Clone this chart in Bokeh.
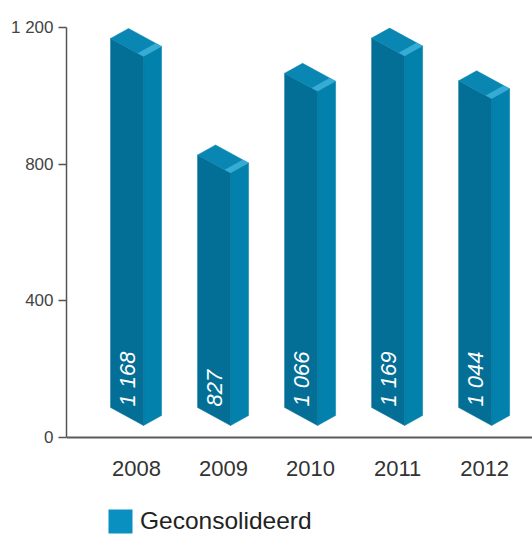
import math
from bokeh.plotting import figure
from bokeh.models import Range1d, FixedTicker, Legend, LegendItem
from bokeh.core.properties import value
from bokeh.embed import file_html
from bokeh.resources import INLINE

# ---- data ----
years = ["2008", "2009", "2010", "2011", "2012"]
values = [1168, 827, 1066, 1169, 1044]
y_ticks = [0, 400, 800, 1200]
y_tick_labels = ["0", "400", "800", "1 200"]
series_name = "Geconsolideerd"

# ---- layout ----
W, H = 532, 536
BL, BR, BT = 66, 0, 27
AXIS_Y = 437                      # page y of the value 0
frame_w = W - BL - BR
YPX = (AXIS_Y - BT) / 1200.0      # pixels per value unit
x_start, x_end = -0.805, 4.55
y_end = 1200
y_start = -(H - AXIS_Y) / YPX     # frame reaches the page bottom (room for labels + legend)
XPX = frame_w / (x_end - x_start)


def dx(px):
    return px / XPX


def dy(px):
    return px / YPX


# isometric bar geometry (pixels)
FL_OFF = -26          # front-left edge relative to category centre
WX, WY = 33, -18      # front face width vector
DX, DY = 18, 10       # depth vector
BASE = 30             # front-left bottom above axis
BEVEL = 0.18

C_FRONT = "#046f96"
C_SIDE = "#0281ad"
C_TOP = "#0986b2"
C_BEVEL = "#36abd4"
C_LEGEND = "#0a8fc1"

front_xs, front_ys, side_xs, side_ys, top_xs, top_ys, bev_xs, bev_ys = ([] for _ in range(8))
lab_x, lab_y, lab_t = [], [], []
for i, v in enumerate(values):
    x0 = i + dx(FL_OFF)
    b = dy(BASE)
    flt = (x0, v)
    frt = (x0 + dx(WX), v + dy(WY))
    brt = (frt[0] + dx(DX), frt[1] + dy(DY))
    blt = (x0 + dx(DX), v + dy(DY))
    flb = (x0, b)
    frb = (x0 + dx(WX), b + dy(WY))
    brb = (frb[0] + dx(DX), frb[1] + dy(DY))
    front_xs.append([flt[0], frt[0], frb[0], flb[0]])
    front_ys.append([flt[1], frt[1], frb[1], flb[1]])
    side_xs.append([frt[0], brt[0], brb[0], frb[0]])
    side_ys.append([frt[1], brt[1], brb[1], frb[1]])
    top_xs.append([flt[0], blt[0], brt[0], frt[0]])
    top_ys.append([flt[1], blt[1], brt[1], frt[1]])
    bx, by = dx(WX) * BEVEL, dy(WY) * BEVEL
    bev_xs.append([frt[0], brt[0], brt[0] - bx, frt[0] - bx])
    bev_ys.append([frt[1], brt[1], brt[1] - by, frt[1] - by])
    lab_x.append(i + dx(FL_OFF + WX / 2))
    lab_y.append(dy(31))
    lab_t.append(f"{v:,}".replace(",", " "))

p = figure(width=W, height=H, x_range=Range1d(x_start, x_end), y_range=Range1d(y_start, y_end),
           output_backend="svg", toolbar_location=None, title=None,
           min_border_left=BL, min_border_right=BR, min_border_top=BT, min_border_bottom=0)
p.grid.visible = False
p.outline_line_color = None
p.background_fill_color = "white"
p.border_fill_color = "white"

p.patches(side_xs, side_ys, fill_color=C_SIDE, line_color=C_SIDE, line_width=0.5)
p.patches(front_xs, front_ys, fill_color=C_FRONT, line_color=C_FRONT, line_width=0.5)
p.patches(top_xs, top_ys, fill_color=C_TOP, line_color=C_TOP, line_width=0.5)
p.patches(bev_xs, bev_ys, fill_color=C_BEVEL, line_color=None)

p.text(x=lab_x, y=lab_y, text=lab_t, angle=math.pi / 2, text_align="left", text_baseline="middle",
       text_color="white", text_font=value("Liberation Sans"), text_font_style="italic",
       text_font_size="22px")

# axes
xa = p.xaxis[0]
xa.fixed_location = 0
xa.ticker = FixedTicker(ticks=list(range(len(years))))
xa.major_label_overrides = {i: y for i, y in enumerate(years)}
xa.major_tick_out = 0
xa.major_tick_in = 0
xa.minor_tick_line_color = None
xa.axis_line_color = "#5a5a5a"
xa.axis_line_width = 2
xa.major_label_standoff = 23
xa.major_label_text_font = "Liberation Sans"
xa.major_label_text_font_size = "22px"
xa.major_label_text_color = "#333333"

ya = p.yaxis[0]
ya.bounds = (0, 1200)
ya.ticker = FixedTicker(ticks=y_ticks)
ya.major_label_overrides = {t: l for t, l in zip(y_ticks, y_tick_labels)}
ya.major_tick_out = 8
ya.major_tick_in = 0
ya.minor_tick_line_color = None
ya.axis_line_color = "#555555"
ya.axis_line_width = 1.5
ya.major_tick_line_color = "#555555"
ya.major_tick_line_width = 1.5
ya.major_label_standoff = 5
ya.major_label_text_font = "Liberation Sans"
ya.major_label_text_font_size = "17px"
ya.major_label_text_color = "#444444"

# legend (proxy renderer: one NaN row so only the legend swatch is drawn)
nan = float("nan")
r_leg = p.rect(x=[nan], y=[nan], width=1, height=1, fill_color=C_LEGEND, line_color=None)
legend = Legend(items=[LegendItem(label=series_name, renderers=[r_leg])], location=(39, 0),
                glyph_width=30, glyph_height=30, label_standoff=5, padding=0, margin=0,
                border_line_color=None, background_fill_alpha=0,
                label_text_font="Liberation Sans", label_text_font_size="24.5px",
                label_text_color="#222222")
p.add_layout(legend)

open("out.html", "w").write(file_html(p, INLINE))
